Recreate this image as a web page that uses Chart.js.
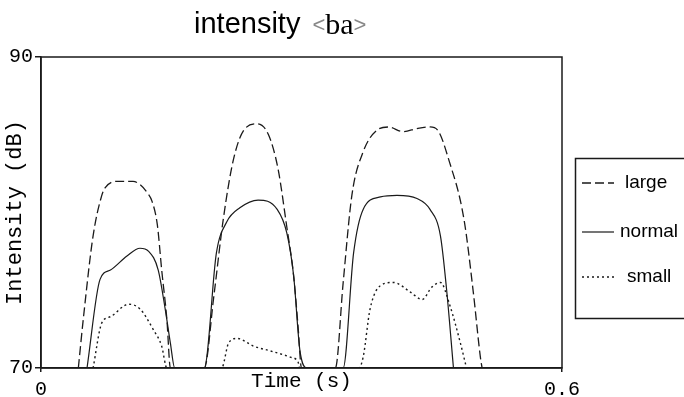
<!DOCTYPE html>
<html>
<head>
<meta charset="utf-8">
<script src="https://cdn.jsdelivr.net/npm/chart.js@4.4.1/dist/chart.umd.min.js"></script>
<style>
  body { margin: 0; background: #fff; }
  #wrap { width: 684px; height: 397px; }
</style>
</head>
<body>
<div id="wrap"><canvas id="myChart" width="684" height="397"></canvas></div>
<script>
// values (time in s, intensity in dB)
var seriesNames = ['large', 'normal', 'small'];
var xTicks = [0, 0.6];
var yTicks = [70, 90];

var largeTime = [0.043, 0.049, 0.060, 0.070, 0.074, 0.087, 0.106, 0.114, 0.122, 0.128, 0.134, 0.139, 0.145, 0.149,
                 0.188, 0.199, 0.210, 0.222, 0.235, 0.249, 0.262, 0.273, 0.283, 0.291, 0.296, 0.300,
                 0.339, 0.348, 0.358, 0.371, 0.387, 0.400, 0.417, 0.433, 0.448, 0.458, 0.469, 0.487, 0.498, 0.506, 0.508];
var largeDb = [70, 73.3, 78.5, 81.1, 81.6, 82.0, 82.0, 81.8, 81.3, 80.7, 79.2, 76.3, 73.1, 70,
               70, 74.6, 79.6, 83.5, 85.4, 85.7, 85.0, 82.8, 79.1, 75.9, 72.7, 70,
               70, 75.5, 81.1, 83.9, 85.3, 85.5, 85.2, 85.4, 85.5, 85.2, 83.5, 79.6, 74.8, 70.7, 70];

var normalTime = [0.053, 0.068, 0.080, 0.099, 0.114, 0.124, 0.135, 0.143, 0.149, 0.154,
                  0.188, 0.202, 0.214, 0.229, 0.250, 0.272, 0.283, 0.291, 0.298, 0.306,
                  0.348, 0.360, 0.371, 0.391, 0.410, 0.433, 0.448, 0.460, 0.467, 0.475];
var normalDb = [70, 75.7, 76.3, 77.2, 77.7, 77.5, 76.3, 73.8, 71.6, 70,
                70, 77.4, 79.4, 80.3, 80.8, 80.2, 78.7, 75.9, 71.2, 70,
                70, 77.4, 80.2, 81.0, 81.1, 80.9, 80.2, 78.5, 75.1, 70];

var smallTime = [0.060, 0.070, 0.080, 0.101, 0.114, 0.129, 0.139, 0.145,
                 0.208, 0.216, 0.226, 0.245, 0.264, 0.287, 0.296, 0.298,
                 0.366, 0.371, 0.379, 0.391, 0.406, 0.425, 0.439, 0.450, 0.460, 0.471, 0.483, 0.490];
var smallDb = [70, 72.9, 73.3, 74.1, 73.8, 72.5, 71.4, 70,
               70, 71.6, 71.9, 71.4, 71.1, 70.7, 70.4, 70,
               70, 70.7, 73.8, 75.3, 75.5, 74.9, 74.4, 75.2, 75.5, 74.0, 71.6, 70];

function toPoints(times, values) {
    var pts = [];
    for (var i = 0; i < times.length; i++) {
        pts.push({ x: times[i], y: values[i] });
    }
    return pts;
}

var ink = '#1a1a1a';
var mono = "'Liberation Mono', 'DejaVu Sans Mono', monospace";
var sans = "'Liberation Sans', Arial, sans-serif";

// title: sans "intensity" + serif "ba" in light angle brackets
var titlePlugin = {
    id: 'titlePlugin',
    afterDraw: function (chart) {
        var ctx = chart.ctx;
        ctx.save();
        ctx.textBaseline = 'alphabetic';
        ctx.fillStyle = '#000';
        var x = 194, y = 33;
        ctx.font = '29px ' + sans;
        ctx.fillText('intensity', x, y);
        x += ctx.measureText('intensity ').width + 4;
        ctx.font = '22px ' + sans;
        ctx.fillStyle = '#888';
        ctx.fillText('<', x, y - 1);
        x += ctx.measureText('<').width;
        ctx.font = '30px "Liberation Serif", "Times New Roman", serif';
        ctx.fillStyle = '#000';
        ctx.fillText('ba', x, y + 1);
        x += ctx.measureText('ba').width;
        ctx.font = '22px ' + sans;
        ctx.fillStyle = '#888';
        ctx.fillText('>', x, y - 1);
        ctx.restore();
    }
};

// box around the plot + boxed legend on the right
var framePlugin = {
    id: 'framePlugin',
    afterDraw: function (chart) {
        var ctx = chart.ctx;
        var a = chart.chartArea;
        ctx.save();
        ctx.strokeStyle = ink;
        ctx.lineWidth = 1.5;
        ctx.strokeRect(a.left, a.top, a.right - a.left, a.bottom - a.top);

        // legend box runs off the right edge
        ctx.strokeRect(575.5, 158.5, 130, 160);
        var rowY = [183, 232, 277];
        var textX = [625, 620, 627];
        ctx.font = '19px ' + sans;
        ctx.textBaseline = 'middle';
        chart.data.datasets.forEach(function (ds, i) {
            ctx.strokeStyle = ink;
            ctx.lineWidth = ds.borderWidth;
            ctx.setLineDash(ds.borderDash || []);
            ctx.beginPath();
            ctx.moveTo(582, rowY[i]);
            ctx.lineTo(614, rowY[i]);
            ctx.stroke();
            ctx.setLineDash([]);
            ctx.fillStyle = '#000';
            ctx.fillText(ds.label, textX[i], rowY[i]);
        });
        ctx.restore();
    }
};

var config = {
    type: 'line',
    data: {
        datasets: [{
            label: seriesNames[0],
            data: toPoints(largeTime, largeDb),
            borderColor: ink,
            borderWidth: 1.3,
            borderDash: [9, 4]
        }, {
            label: seriesNames[1],
            data: toPoints(normalTime, normalDb),
            borderColor: ink,
            borderWidth: 1.2,
            borderDash: []
        }, {
            label: seriesNames[2],
            data: toPoints(smallTime, smallDb),
            borderColor: ink,
            borderWidth: 1.4,
            borderDash: [2, 3]
        }]
    },
    options: {
        responsive: false,
        animation: false,
        layout: { padding: { top: 57, right: 122, left: 0, bottom: 0 } },
        elements: {
            point: { radius: 0 },
            line: { cubicInterpolationMode: 'monotone', fill: false }
        },
        plugins: {
            legend: { display: false },
            title: { display: false },
            tooltip: { enabled: false }
        },
        scales: {
            x: {
                type: 'linear',
                min: xTicks[0],
                max: xTicks[1],
                afterFit: function (scale) { scale.height = 29; },
                afterBuildTicks: function (scale) {
                    scale.ticks = xTicks.map(function (v) { return { value: v }; });
                },
                border: { display: true, color: ink, width: 1.5 },
                grid: { drawOnChartArea: false, tickLength: 4, color: ink, lineWidth: 1.5 },
                ticks: {
                    color: '#000',
                    font: { family: mono, size: 20 },
                    padding: 6,
                    maxRotation: 0,
                    autoSkip: false
                },
                title: {
                    display: true,
                    text: 'Time (s)',
                    color: '#000',
                    font: { family: mono, size: 21 },
                    padding: { top: 0, bottom: 3 }
                }
            },
            y: {
                min: yTicks[0],
                max: yTicks[1],
                afterFit: function (scale) { scale.width = 41; },
                afterBuildTicks: function (scale) {
                    scale.ticks = yTicks.map(function (v) { return { value: v }; });
                },
                border: { display: true, color: ink, width: 1.5 },
                grid: { drawOnChartArea: false, tickLength: 6, color: ink, lineWidth: 1.5 },
                ticks: {
                    color: '#000',
                    font: { family: mono, size: 20 },
                    padding: 2
                },
                title: {
                    display: true,
                    text: 'Intensity (dB)',
                    color: '#000',
                    font: { family: mono, size: 22 },
                    padding: { top: 2, bottom: 0 }
                }
            }
        }
    },
    plugins: [titlePlugin, framePlugin]
};

var ctx = document.getElementById('myChart').getContext('2d');
var myChart = new Chart(ctx, config);
</script>
</body>
</html>
